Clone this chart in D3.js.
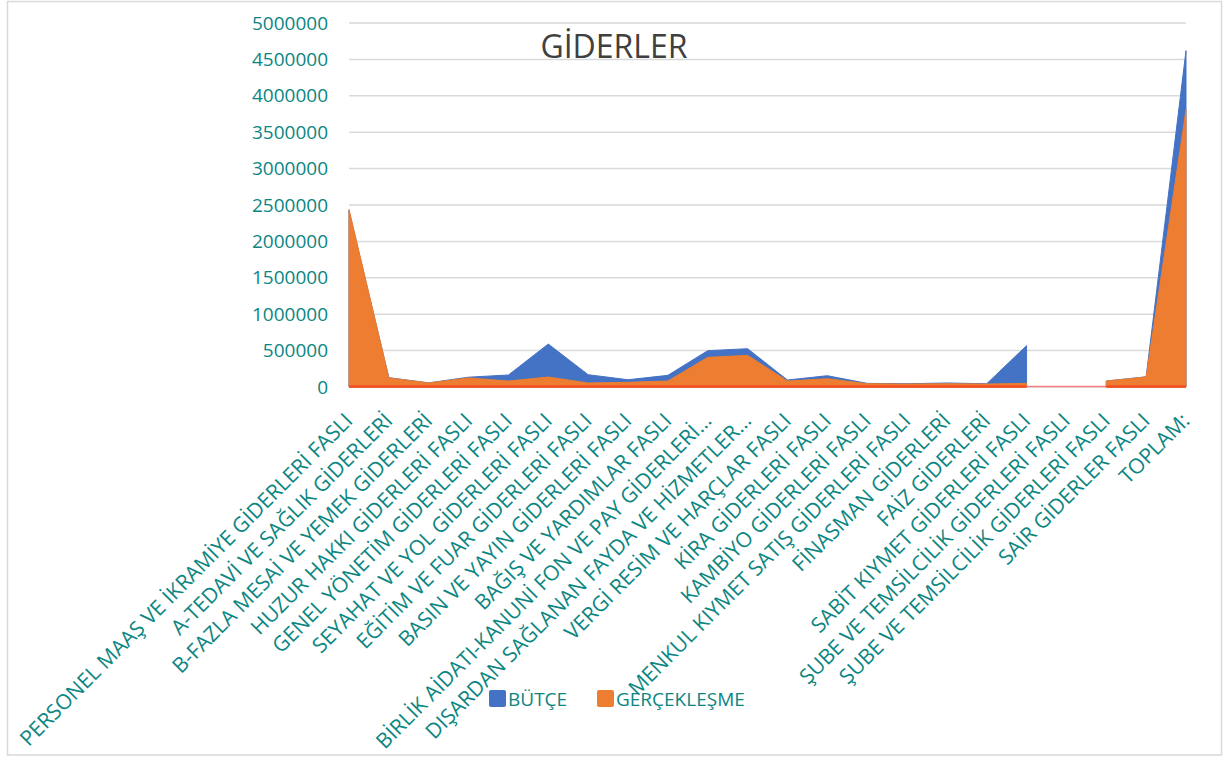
<!DOCTYPE html>
<html>
<head>
<meta charset="utf-8">
<script src="https://cdn.jsdelivr.net/npm/d3@7"></script>
<style>
  body { margin: 0; background: #fff; }
  svg { display: block; font-family: "Open Sans", sans-serif; }
</style>
</head>
<body>
<svg id="chart" width="1229" height="758"></svg>
<script>
// categories (x axis)
const categories = [
  "PERSONEL MAAŞ VE İKRAMİYE GİDERLERİ FASLI",
  "A-TEDAVİ VE SAĞLIK GİDERLERİ",
  "B-FAZLA MESAİ VE YEMEK GİDERLERİ",
  "HUZUR HAKKI GİDERLERİ FASLI",
  "GENEL YÖNETİM GİDERLERİ FASLI",
  "SEYAHAT VE YOL GİDERLERİ FASLI",
  "EĞİTİM VE FUAR GİDERLERİ FASLI",
  "BASIN VE YAYIN GİDERLERİ FASLI",
  "BAĞIŞ VE YARDIMLAR FASLI",
  "BİRLİK AİDATI-KANUNİ FON VE PAY GİDERLERİ…",
  "DIŞARDAN SAĞLANAN FAYDA VE HİZMETLER…",
  "VERGİ RESİM VE HARÇLAR FASLI",
  "KİRA GİDERLERİ FASLI",
  "KAMBİYO GİDERLERİ FASLI",
  "MENKUL KIYMET SATIŞ GİDERLERİ FASLI",
  "FİNASMAN GİDERLERİ",
  "FAİZ GİDERLERİ",
  "SABİT KIYMET GİDERLERİ FASLI",
  "ŞUBE VE TEMSİLCİLİK GİDERLERİ FASLI",
  "ŞUBE VE TEMSİLCİLİK GİDERLERİ FASLI ",
  "SAİR GİDERLER FASLI",
  "TOPLAM:"
];

// series values (null = empty cell)
const butce = [2420000, 128000, 57000, 135000, 165000, 590000, 169000, 100000, 160000, 499000, 526000,
  96000, 155000, 50000, 45000, 55000, 45000, 568000, null, 82000, 140000, 4620000];
const gerceklesme = [2440000, 125000, 55000, 125000, 82000, 137000, 55000, 64000, 82000, 407000, 435000,
  82000, 114000, 45000, 40000, 45000, 40000, 50000, null, 82000, 137000, 3805000];

const yTicks = [0, 500000, 1000000, 1500000, 2000000, 2500000, 3000000, 3500000, 4000000, 4500000, 5000000];

const teal = "#0b8682";
const svg = d3.select("#chart");

// chart border
svg.append("rect")
  .attr("x", 7.5).attr("y", 1.5)
  .attr("width", 1214).attr("height", 753.5)
  .attr("fill", "none").attr("stroke", "#d9d9d9").attr("stroke-width", 1.5);

const x = d3.scalePoint()
  .domain(d3.range(categories.length))
  .range([349, 1186]);

const y = d3.scaleLinear()
  .domain([0, 5000000])
  .range([387, 23]);

// gridlines
svg.append("g")
  .selectAll("line")
  .data(yTicks)
  .join("line")
  .attr("x1", 349).attr("x2", 1186)
  .attr("y1", d => y(d)).attr("y2", d => y(d))
  .attr("stroke", "#d9d9d9").attr("stroke-width", 1.5);

// y axis labels
const yAxis = svg.append("g")
  .attr("transform", "translate(349,0)")
  .call(d3.axisLeft(y).tickValues(yTicks).tickSize(0).tickPadding(21).tickFormat(d3.format("d")));
yAxis.select(".domain").remove();
yAxis.selectAll("text")
  .attr("fill", teal)
  .style("font-size", "19px")
  .style("font-family", "'Open Sans', sans-serif");

const idx = d3.range(categories.length);

const areaOf = vals => d3.area()
  .defined(i => vals[i] != null)
  .x(i => x(i))
  .y0(y(0))
  .y1(i => y(vals[i]));

svg.append("path")
  .datum(idx)
  .attr("fill", "#4472c4")
  .attr("stroke", "#4472c4")
  .attr("stroke-width", 1)
  .attr("d", areaOf(butce));

svg.append("path")
  .datum(idx)
  .attr("fill", "#ed7d31")
  .attr("stroke", "#ed7d31")
  .attr("stroke-width", 1)
  .attr("d", areaOf(gerceklesme));

// baseline
svg.append("line")
  .attr("x1", x(0)).attr("x2", x(categories.length - 1))
  .attr("y1", y(0) - 0.5).attr("y2", y(0) - 0.5)
  .attr("stroke", "#f47f7f").attr("stroke-width", 1.5);

svg.append("path")
  .datum(idx)
  .attr("fill", "none")
  .attr("stroke", "#f4511e")
  .attr("stroke-width", 2.5)
  .attr("d", d3.line()
    .defined(i => gerceklesme[i] != null)
    .x(i => x(i))
    .y(() => y(0) - 0.5));

// x axis labels
svg.append("g")
  .selectAll("text")
  .data(idx)
  .join("text")
  .attr("transform", i => `translate(${x(i) + 5},${422}) rotate(-45)`)
  .attr("text-anchor", "end")
  .attr("fill", teal)
  .style("font-size", "21px")
  .text(i => categories[i].trim());

// title
svg.append("text")
  .attr("x", 614).attr("y", 58)
  .attr("text-anchor", "middle")
  .attr("fill", "#404040")
  .style("font-size", "32px")
  .text("GİDERLER");

// legend
const legend = [
  { name: "BÜTÇE", color: "#4472c4", x: 489 },
  { name: "GERÇEKLEŞME", color: "#ed7d31", x: 597 }
];
const lg = svg.append("g")
  .selectAll("g")
  .data(legend)
  .join("g")
  .attr("transform", d => `translate(${d.x},690)`);
lg.append("rect")
  .attr("width", 17).attr("height", 17)
  .attr("rx", 2)
  .attr("fill", d => d.color);
lg.append("text")
  .attr("x", 19).attr("y", 15.5)
  .attr("fill", teal)
  .style("font-size", "19px")
  .text(d => d.name);
</script>
</body>
</html>
